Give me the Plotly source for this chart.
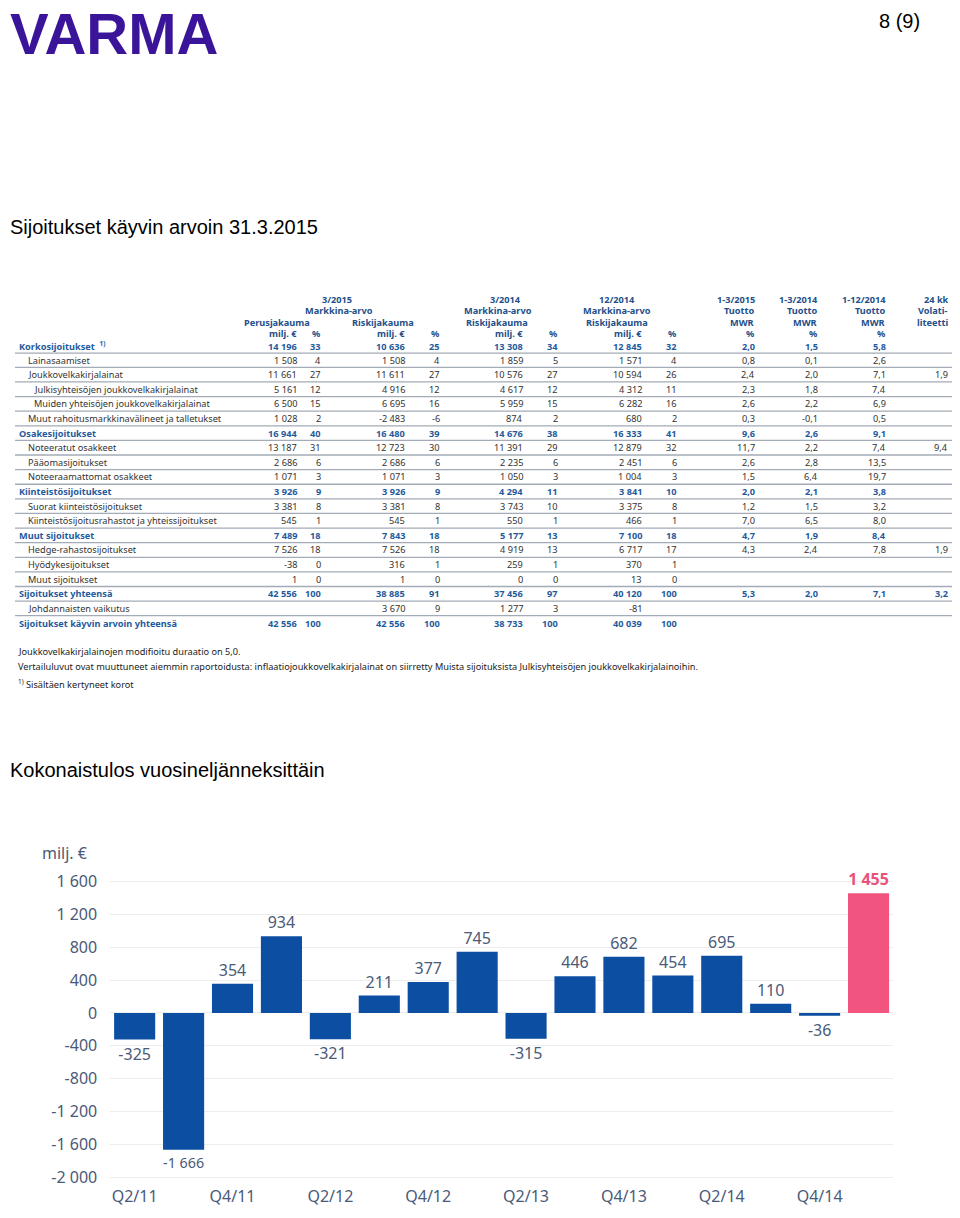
import plotly.graph_objects as go

# ---------------- data: quarterly result chart ----------------
quarters = ["Q2/11", "Q3/11", "Q4/11", "Q1/12", "Q2/12", "Q3/12", "Q4/12", "Q1/13",
            "Q2/13", "Q3/13", "Q4/13", "Q1/14", "Q2/14", "Q3/14", "Q4/14", "Q1/15"]
results = [-325, -1666, 354, 934, -321, 211, 377, 745,
           -315, 446, 682, 454, 695, 110, -36, 1455]
y_ticks = [1600, 1200, 800, 400, 0, -400, -800, -1200, -1600, -2000]
x_tick_labels = quarters[::2][:8]

# ---------------- data: investment table ----------------
row_labels = ["Korkosijoitukset", "Lainasaamiset", "Joukkovelkakirjalainat",
              "Julkisyhteisöjen joukkovelkakirjalainat", "Muiden yhteisöjen joukkovelkakirjalainat",
              "Muut rahoitusmarkkinavälineet ja talletukset", "Osakesijoitukset",
              "Noteeratut osakkeet", "Pääomasijoitukset", "Noteeraamattomat osakkeet",
              "Kiinteistösijoitukset", "Suorat kiinteistösijoitukset",
              "Kiinteistösijoitusrahastot ja yhteissijoitukset", "Muut sijoitukset",
              "Hedge-rahastosijoitukset", "Hyödykesijoitukset", "Muut sijoitukset",
              "Sijoitukset yhteensä", "Johdannaisten vaikutus", "Sijoitukset käyvin arvoin yhteensä"]
row_level = [0, 1, 1, 2, 2, 1, 0, 1, 1, 1, 0, 1, 1, 0, 1, 1, 1, 0, 1, 0]

perus_meur = [14196, 1508, 11661, 5161, 6500, 1028, 16944, 13187, 2686, 1071, 3926, 3381, 545,
              7489, 7526, -38, 1, 42556, None, 42556]
perus_pct = [33, 4, 27, 12, 15, 2, 40, 31, 6, 3, 9, 8, 1, 18, 18, 0, 0, 100, None, 100]
riski_1503_meur = [10636, 1508, 11611, 4916, 6695, -2483, 16480, 12723, 2686, 1071, 3926, 3381, 545,
                   7843, 7526, 316, 1, 38885, 3670, 42556]
riski_1503_pct = [25, 4, 27, 12, 16, -6, 39, 30, 6, 3, 9, 8, 1, 18, 18, 1, 0, 91, 9, 100]
riski_1403_meur = [13308, 1859, 10576, 4617, 5959, 874, 14676, 11391, 2235, 1050, 4294, 3743, 550,
                   5177, 4919, 259, 0, 37456, 1277, 38733]
riski_1403_pct = [34, 5, 27, 12, 15, 2, 38, 29, 6, 3, 11, 10, 1, 13, 13, 1, 0, 97, 3, 100]
riski_1412_meur = [12845, 1571, 10594, 4312, 6282, 680, 16333, 12879, 2451, 1004, 3841, 3375, 466,
                   7100, 6717, 370, 13, 40120, -81, 40039]
riski_1412_pct = [32, 4, 26, 11, 16, 2, 41, 32, 6, 3, 10, 8, 1, 18, 17, 1, 0, 100, None, 100]
mwr_1503 = [2.0, 0.8, 2.4, 2.3, 2.6, 0.3, 9.6, 11.7, 2.6, 1.5, 2.0, 1.2, 7.0, 4.7, 4.3,
            None, None, 5.3, None, None]
mwr_1403 = [1.5, 0.1, 2.0, 1.8, 2.2, -0.1, 2.6, 2.2, 2.8, 6.4, 2.1, 1.5, 6.5, 1.9, 2.4,
            None, None, 2.0, None, None]
mwr_1412 = [5.8, 2.6, 7.1, 7.4, 6.9, 0.5, 9.1, 7.4, 13.5, 19.7, 3.8, 3.2, 8.0, 8.4, 7.8,
            None, None, 7.1, None, None]
vol_24kk = [None, None, 1.9, None, None, None, None, 9.4, None, None, None, None, None, None, 1.9,
            None, None, 3.2, None, None]

footnotes = ["Joukkovelkakirjalainojen modifioitu duraatio on 5,0.",
             "Vertailuluvut ovat muuttuneet aiemmin raportoidusta: inflaatiojoukkovelkakirjalainat on siirretty "
             "Muista sijoituksista Julkisyhteisöjen joukkovelkakirjalainoihin.",
             "<sup>1)</sup> Sisältäen kertyneet korot"]


def fmt_int(v):
    return "" if v is None else f"{v:,}".replace(",", " ")


def fmt_dec(v):
    return "" if v is None else f"{v:.1f}".replace(".", ",")


# ---------------- page geometry (page has an 8px body margin) ----------------
OFF = 8
W, H = 960 - 2 * OFF, 1218 - OFF


def px(x):
    return max((x - OFF) / W, 0)


def py(y):
    return 1 - (y - OFF) / H


TXT = "#333333"
HEAD = "#244f8a"
BOLDROW = "#1f5a9c"
TFONT = "Noto Sans"
TSIZE = 9.2
AXC = "#4a5a78"

fig = go.Figure()

# ---------------- bar chart ----------------
bar_color = ["#0b4ea2"] * (len(results) - 1) + ["#f1557f"]
label_color = [AXC] * (len(results) - 1) + ["#e9527c"]
labels = [fmt_int(v) for v in results]
labels[-1] = "<b>" + labels[-1] + "</b>"

fig.add_trace(go.Bar(
    x=quarters, y=results, marker=dict(color=bar_color, line=dict(width=0)),
    width=0.84, text=labels, textposition="outside", cliponaxis=False,
    textfont=dict(size=16, color=label_color, family="Noto Sans"),
    hoverinfo="skip", showlegend=False,
))

fig.update_layout(
    width=W, height=H, margin=dict(l=0, r=0, t=0, b=0),
    paper_bgcolor="white", plot_bgcolor="white",
    xaxis=dict(domain=[px(110.2), px(893)], type="category", categoryorder="array",
               categoryarray=quarters, tickvals=x_tick_labels, ticktext=x_tick_labels,
               showgrid=False, showline=False, zeroline=False, ticks="",
               tickfont=dict(size=16, color=AXC, family="Noto Sans")),
    yaxis=dict(domain=[py(1187.3), py(873.8)], range=[-2100, 1700],
               tickvals=y_ticks, ticktext=[fmt_int(v) for v in y_ticks],
               showgrid=True, gridcolor="#ededed", gridwidth=1, zeroline=False,
               showline=False, ticks="", ticklabelstandoff=12,
               tickfont=dict(size=16, color=AXC, family="Noto Sans")),
)

ann = []
shapes = []

ann.append(dict(x=px(40), y=py(853), xref="paper", yref="paper", xanchor="left", yanchor="middle",
                text="milj. €", showarrow=False, font=dict(size=16, color=AXC, family="Noto Sans")))

# ---------------- page texts ----------------
ann.append(dict(x=px(9), y=py(64), xref="paper", yref="paper", xanchor="left", yanchor="bottom",
                text="<b>VARMA</b>", showarrow=False, borderpad=0,
                font=dict(size=58, color="#3a1499", family="Liberation Sans")))
ann.append(dict(x=px(922), y=py(18), xref="paper", yref="paper", xanchor="right", yanchor="middle",
                text="8 (9)", showarrow=False, font=dict(size=20, color="black", family="Liberation Sans")))
ann.append(dict(x=px(8), y=py(225), xref="paper", yref="paper", xanchor="left", yanchor="middle",
                text="Sijoitukset käyvin arvoin 31.3.2015", showarrow=False,
                font=dict(size=20, color="black", family="Liberation Sans")))
ann.append(dict(x=px(8), y=py(770), xref="paper", yref="paper", xanchor="left", yanchor="middle",
                text="Kokonaistulos vuosineljänneksittäin", showarrow=False,
                font=dict(size=20, color="black", family="Liberation Sans")))

# ---------------- table ----------------
col_right = [299, 323, 407, 442, 525, 560, 644, 679, 757, 820, 888, 950]
columns = [
    [fmt_int(v) for v in perus_meur], [fmt_int(v) for v in perus_pct],
    [fmt_int(v) for v in riski_1503_meur], [fmt_int(v) for v in riski_1503_pct],
    [fmt_int(v) for v in riski_1403_meur], [fmt_int(v) for v in riski_1403_pct],
    [fmt_int(v) for v in riski_1412_meur], [fmt_int(v) for v in riski_1412_pct],
    [fmt_dec(v) for v in mwr_1503], [fmt_dec(v) for v in mwr_1403],
    [fmt_dec(v) for v in mwr_1412], [fmt_dec(v) for v in vol_24kk],
]
row_y = [344.5] + [358.5 + 14.67 * i for i in range(len(row_labels) - 1)]
indent = {0: 17, 1: 26, 2: 32}

for i, lab in enumerate(row_labels):
    bold = row_level[i] == 0
    color = BOLDROW if bold else TXT
    txt = lab
    if i == 0:
        txt = lab + "  <sup>1)</sup>"
    if bold:
        txt = "<b>" + txt + "</b>"
    ann.append(dict(x=px(indent[row_level[i]]), y=py(row_y[i]), xref="paper", yref="paper",
                    xanchor="left", yanchor="middle", text=txt, showarrow=False,
                    font=dict(size=TSIZE, color=color, family=TFONT)))
    for c, xr in enumerate(col_right):
        s = columns[c][i]
        if not s:
            continue
        if bold:
            s = "<b>" + s + "</b>"
        ann.append(dict(x=px(xr), y=py(row_y[i]), xref="paper", yref="paper",
                        xanchor="right", yanchor="middle", text=s, showarrow=False,
                        font=dict(size=TSIZE, color=color, family=TFONT)))

for i in range(len(row_labels) - 1):
    yl = (row_y[i] + row_y[i + 1]) / 2
    shapes.append(dict(type="line", xref="paper", yref="paper", x0=px(15), x1=1,
                       y0=py(yl), y1=py(yl), line=dict(color="#a3abb6", width=1.3)))

head_y = [298, 309, 320.5, 332]
headers = [
    # (text, x, anchor, line)
    ("3/2015", 337, "center", 0), ("Markkina-arvo", 339, "center", 1),
    ("Perusjakauma", 312, "right", 2), ("Riskijakauma", 416, "right", 2),
    ("milj. €", 299, "right", 3), ("%", 323, "right", 3),
    ("milj. €", 407, "right", 3), ("%", 442, "right", 3),
    ("3/2014", 505, "center", 0), ("Markkina-arvo", 498, "center", 1),
    ("Riskijakauma", 497, "center", 2), ("milj. €", 525, "right", 3), ("%", 560, "right", 3),
    ("12/2014", 617, "center", 0), ("Markkina-arvo", 617, "center", 1),
    ("Riskijakauma", 617, "center", 2), ("milj. €", 644, "right", 3), ("%", 679, "right", 3),
    ("1-3/2015", 757, "right", 0), ("Tuotto", 757, "right", 1), ("MWR", 757, "right", 2), ("%", 757, "right", 3),
    ("1-3/2014", 820, "right", 0), ("Tuotto", 820, "right", 1), ("MWR", 820, "right", 2), ("%", 820, "right", 3),
    ("1-12/2014", 888, "right", 0), ("Tuotto", 888, "right", 1), ("MWR", 888, "right", 2), ("%", 888, "right", 3),
    ("24 kk", 951, "right", 0), ("Volati-", 950, "right", 1), ("liteetti", 950, "right", 2),
]
for t, x, a, ln in headers:
    ann.append(dict(x=px(x), y=py(head_y[ln]), xref="paper", yref="paper", xanchor=a, yanchor="middle",
                    text="<b>" + t + "</b>", showarrow=False,
                    font=dict(size=TSIZE, color=HEAD, family=TFONT)))

foot_y = [651, 666, 684]
for t, y in zip(footnotes, foot_y):
    ann.append(dict(x=px(16), y=py(y), xref="paper", yref="paper", xanchor="left", yanchor="middle",
                    text=t, showarrow=False, font=dict(size=TSIZE, color="#222222", family=TFONT)))

fig.update_layout(annotations=ann, shapes=shapes)
fig.write_html("out.html")
